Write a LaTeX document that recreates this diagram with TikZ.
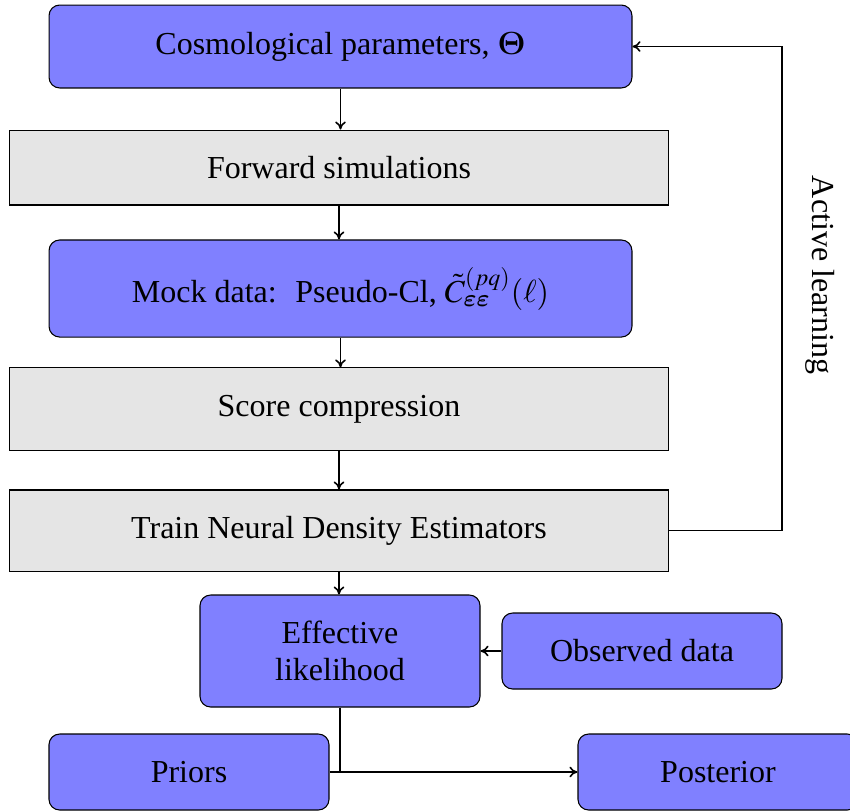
\documentclass[tikz,border=0pt]{standalone}
\usepackage{amsmath,bm}
\usepackage{mathptmx}
\usepackage{fontspec}
\setmainfont{Liberation Serif}
\usetikzlibrary{arrows.meta}

\tikzset{
  every node/.style={font=\fontsize{12}{14}\selectfont},
  bluebox/.style={draw, rounded corners=4pt, fill=blue!50, line width=0.4pt},
  greybox/.style={draw, fill=gray!20, line width=0.4pt},
  arr/.style={-{To[length=3pt,width=4pt]}, line width=0.6pt}
}

\begin{document}
\begin{tikzpicture}[x=0.375pt,y=-0.375pt]

  \useasboundingbox (0,0) rectangle (850,810);

  % main chain
  \node[bluebox, minimum width=218.6pt, minimum height=31.1pt] (cosmo) at (340.5,46.5)
    {Cosmological parameters, $\bm{\Theta}$};
  \node[greybox, minimum width=246.8pt, minimum height=28.1pt] (fwd) at (339,167.5)
    {Forward simulations};
  \node[bluebox, minimum width=218.6pt, minimum height=36.4pt] (mock) at (340.5,288.5)
    {Mock data: \ Pseudo-Cl, $\tilde{C}^{(pq)}_{\bm{\varepsilon}\bm{\varepsilon}}(\ell)$};
  \node[greybox, minimum width=246.8pt, minimum height=30.8pt] (score) at (339,409)
    {Score compression};
  \node[greybox, minimum width=246.8pt, minimum height=30.4pt] (train) at (339,530.5)
    {Train Neural Density Estimators};

  % likelihood and posterior
  \node[bluebox, minimum width=105pt, minimum height=42pt, align=center] (eff) at (340,651)
    {Effective\\likelihood};
  \node[bluebox, minimum width=105pt, minimum height=28.5pt] (obs) at (642,651)
    {Observed data};
  \node[bluebox, minimum width=105pt, minimum height=28.5pt] (priors) at (189,772)
    {Priors};
  \node[bluebox, minimum width=105pt, minimum height=28.5pt] (post) at (718,772)
    {Posterior};

  \node[rotate=-90] (active) at (820,275) {Active learning};
  \coordinate (turn) at (782,46.5);

  \draw[arr] (cosmo.south) -- (cosmo.south |- fwd.north);
  \draw[arr] (fwd.south) -- (fwd.south |- mock.north);
  \draw[arr] (mock.south) -- (mock.south |- score.north);
  \draw[arr] (score.south) -- (score.south |- train.north);
  \draw[arr] (train.south) -- (train.south |- eff.north);
  \draw[arr] (train.east) -| (turn) -- (cosmo.east);
  \draw[arr] (obs.west) -- (eff.east);
  \draw[line width=0.4pt] (eff.south) -- (eff.south |- priors.east);
  \draw[arr] (priors.east) -- (post.west);

\end{tikzpicture}
\end{document}
